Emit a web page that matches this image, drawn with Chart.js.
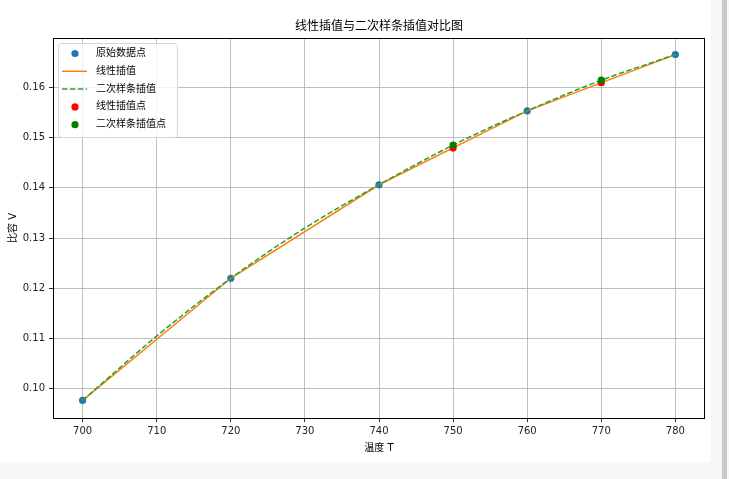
<!DOCTYPE html>
<html>
<head>
<meta charset="utf-8">
<script src="https://cdn.jsdelivr.net/npm/chart.js@4.4.0/dist/chart.umd.min.js"></script>
<style>
  html, body { margin: 0; padding: 0; width: 729px; height: 479px; overflow: hidden; background: #f7f7f7; }
  #panel { position: absolute; left: 0; top: 0; width: 711px; height: 462px; background: #fff; }
  #bar { position: absolute; left: 722px; top: 0; width: 5px; height: 479px; background: #c8c8c8; }
</style>
</head>
<body>
<div id="panel"><canvas id="chart" width="711" height="462"></canvas></div>
<div id="bar"></div>
<script>
// 原始数据点
const tempPoints = [700, 720, 740, 760, 780];
const volumePoints = [0.0977, 0.1220, 0.1406, 0.1553, 0.1665];

// 插值查询点
const queryTemps = [750, 770];
const linearQuery = [0.1479, 0.1609];
const splineQuery = [0.1485, 0.1614];

// 二次样条曲线
const splineTemps = [700, 710, 720, 730, 740, 750, 760, 770, 780];
const splineCurve = [0.0977, 0.1105, 0.1220, 0.1320, 0.1406, 0.1485, 0.1553, 0.1614, 0.1665];

// 刻度
const xTicks = [700, 710, 720, 730, 740, 750, 760, 770, 780];
const yTicks = [0.10, 0.11, 0.12, 0.13, 0.14, 0.15, 0.16];

const labels = {
  title: "线性插值与二次样条插值对比图",
  raw: "原始数据点",
  linear: "线性插值",
  spline: "二次样条插值",
  linearPts: "线性插值点",
  splinePts: "二次样条插值点",
  x: "温度 T",
  y: "比容 V"
};

const FONT = "'DejaVu Sans', 'Noto Sans CJK SC', sans-serif";

const toXY = (xs, ys) => xs.map((x, i) => ({ x, y: ys[i] }));

// 图例（放在绘图区左上角）与四周边框
const frameLegend = {
  id: "frameLegend",
  afterDraw(chart) {
    const { ctx, chartArea } = chart;
    ctx.save();
    ctx.strokeStyle = "#000";
    ctx.lineWidth = 1;
    ctx.strokeRect(Math.round(chartArea.left) + 0.5, Math.round(chartArea.top) + 0.5,
      Math.round(chartArea.right - chartArea.left) - 1, Math.round(chartArea.bottom - chartArea.top));

    const entries = [
      { text: labels.raw, kind: "dot", color: "#1f77b4" },
      { text: labels.linear, kind: "line", color: "#ff7f0e" },
      { text: labels.spline, kind: "dash", color: "#2ca02c" },
      { text: labels.linearPts, kind: "dot", color: "#ff0000" },
      { text: labels.splinePts, kind: "dot", color: "#008000" }
    ];
    ctx.font = "10px " + FONT;
    const textW = Math.max(...entries.map(e => ctx.measureText(e.text).width));
    const bx = chartArea.left + 5.5, by = chartArea.top + 5.5;
    const bw = 43 + textW + 6, bh = 94;
    ctx.beginPath();
    ctx.roundRect(bx, by, bw, bh, 3);
    ctx.fillStyle = "rgba(255,255,255,0.8)";
    ctx.fill();
    ctx.strokeStyle = "#d6d6d6";
    ctx.stroke();

    entries.forEach((e, i) => {
      const cy = chartArea.top + 15.5 + i * 17.8;
      if (e.kind === "dot") {
        ctx.beginPath();
        ctx.arc(bx + 16.5, cy, 3.6, 0, Math.PI * 2);
        ctx.fillStyle = e.color;
        ctx.fill();
      } else {
        ctx.beginPath();
        ctx.setLineDash(e.kind === "dash" ? [5.5, 2.4] : []);
        ctx.moveTo(bx + 3.5, cy);
        ctx.lineTo(bx + 28.5, cy);
        ctx.strokeStyle = e.color;
        ctx.lineWidth = 1.5;
        ctx.stroke();
        ctx.setLineDash([]);
      }
      ctx.fillStyle = "#000";
      ctx.textAlign = "left";
      ctx.textBaseline = "middle";
      ctx.fillText(e.text, bx + 37.5, cy);
    });
    ctx.restore();
  }
};

new Chart(document.getElementById("chart").getContext("2d"), {
  type: "scatter",
  data: {
    datasets: [
      {
        label: labels.raw,
        data: toXY(tempPoints, volumePoints),
        backgroundColor: "#1f77b4",
        borderWidth: 0,
        pointRadius: 3.6,
        showLine: false,
        order: 5
      },
      {
        label: labels.linear,
        data: toXY(tempPoints, volumePoints),
        borderColor: "#ff7f0e",
        borderWidth: 1.5,
        pointRadius: 0,
        showLine: true,
        order: 4
      },
      {
        label: labels.spline,
        data: toXY(splineTemps, splineCurve),
        borderColor: "#2ca02c",
        borderWidth: 1.5,
        borderDash: [5.5, 2.4],
        pointRadius: 0,
        showLine: true,
        cubicInterpolationMode: "monotone",
        order: 3
      },
      {
        label: labels.linearPts,
        data: toXY(queryTemps, linearQuery),
        backgroundColor: "#ff0000",
        borderWidth: 0,
        pointRadius: 3.6,
        showLine: false,
        order: 2
      },
      {
        label: labels.splinePts,
        data: toXY(queryTemps, splineQuery),
        backgroundColor: "#008000",
        borderWidth: 0,
        pointRadius: 3.6,
        showLine: false,
        order: 1
      }
    ]
  },
  options: {
    responsive: false,
    animation: false,
    layout: { padding: { left: 0, right: 6, top: 0, bottom: 0 } },
    plugins: {
      legend: { display: false },
      tooltip: { enabled: false },
      title: {
        display: true,
        text: labels.title,
        fullSize: false,
        color: "#000",
        font: { family: FONT, size: 12, weight: "normal" },
        padding: { top: 19.8, bottom: 3.8 }
      }
    },
    scales: {
      x: {
        type: "linear",
        min: 696,
        max: 784,
        afterBuildTicks: (scale) => { scale.ticks = xTicks.map(v => ({ value: v })); },
        afterFit: (scale) => { scale.height = 44; },
        border: { display: false },
        grid: { color: "#b0b0b0", lineWidth: 0.8, tickColor: "#000", tickLength: 4, drawTicks: true },
        ticks: { color: "#222", padding: 3, maxRotation: 0, font: { family: FONT, size: 10 }, callback: (v) => String(v) },
        title: { display: true, text: labels.x, color: "#000", font: { family: FONT, size: 10 }, padding: { top: 0, bottom: 8 } }
      },
      y: {
        type: "linear",
        min: 0.0942,
        max: 0.1698,
        afterBuildTicks: (scale) => { scale.ticks = yTicks.map(v => ({ value: v })); },
        afterFit: (scale) => { scale.width = 53; },
        border: { display: false },
        grid: { color: "#b0b0b0", lineWidth: 0.8, tickColor: "#000", tickLength: 4, drawTicks: true },
        ticks: { color: "#222", padding: 4, font: { family: FONT, size: 10 }, callback: (v) => v.toFixed(2) },
        title: { display: true, text: labels.y, color: "#000", font: { family: FONT, size: 10 }, padding: { top: 7, bottom: 0 } }
      }
    }
  },
  plugins: [frameLegend]
});
</script>
</body>
</html>
